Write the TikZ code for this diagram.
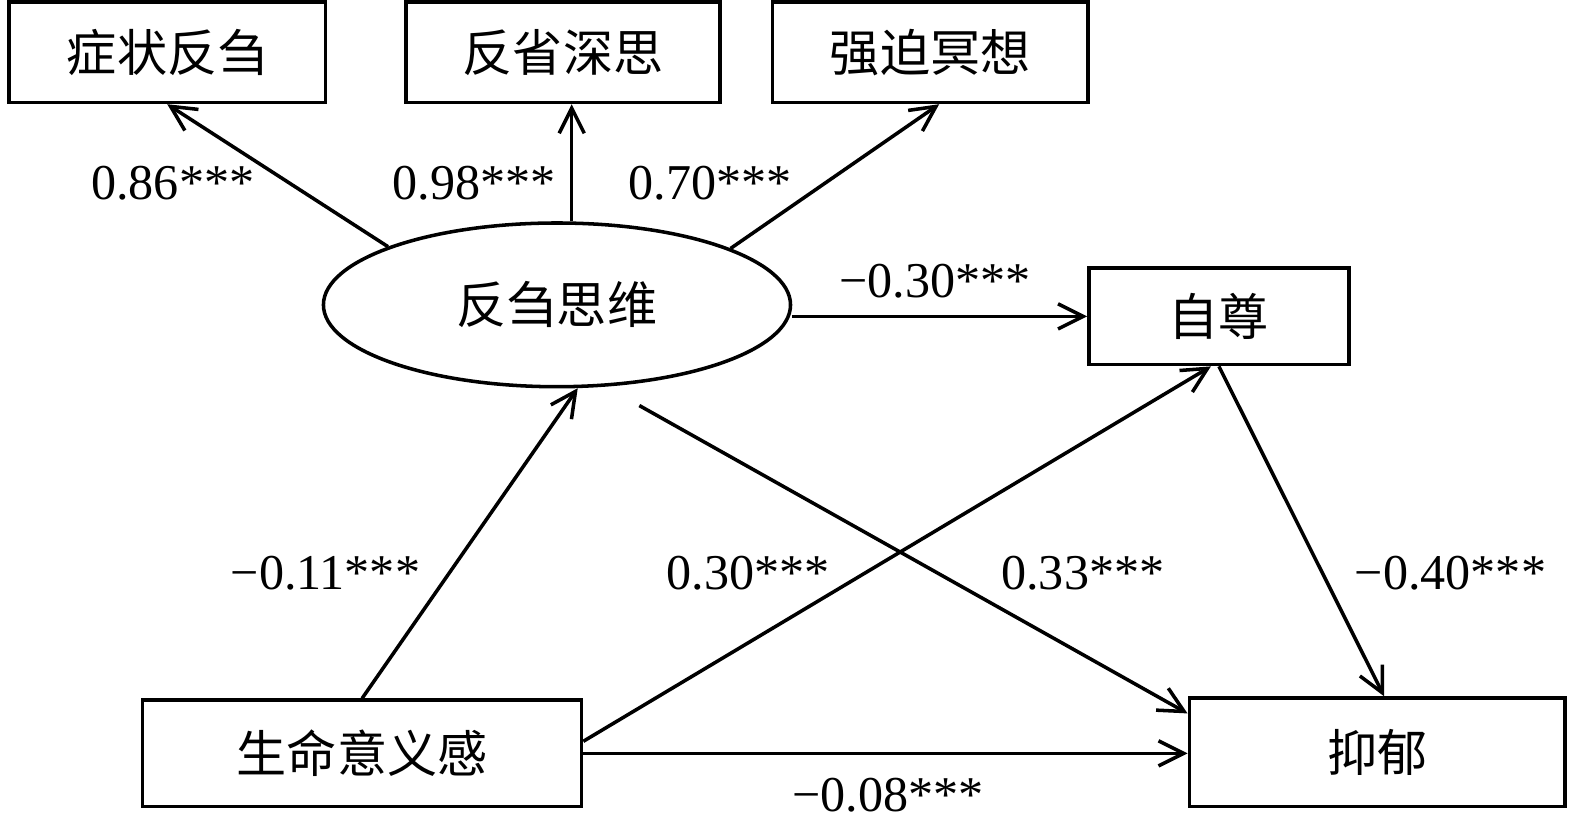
\documentclass[tikz,border=0pt]{standalone}
\usepackage{fontspec}
\setmainfont{Liberation Serif}
\newfontfamily\cjk{Noto Sans CJK SC}
\usetikzlibrary{arrows.meta,shapes.geometric}
\begin{document}
\begin{tikzpicture}
[line width=1pt,
 box/.style={draw,rectangle,inner sep=0pt,font=\cjk\fontsize{14.2}{17}\selectfont},
 latent/.style={draw,ellipse,inner sep=0pt,minimum width=4.65cm,minimum height=1.63cm,font=\cjk\fontsize{14.2}{17}\selectfont},
 arr/.style={-{Straight Barb[length=2.5mm,width=2.5mm]}},
 coef/.style={inner sep=0pt,font=\fontsize{14.2}{17}\selectfont}]
\useasboundingbox (0,0) rectangle (15.68,8.25);
\node[box, minimum width=3.15cm, minimum height=1.0cm] (zz) at (1.665,7.73) {症状反刍};
\node[box, minimum width=3.13cm, minimum height=1.0cm] (fx) at (5.605,7.73) {反省深思};
\node[box, minimum width=3.14cm, minimum height=1.0cm] (qp) at (9.26,7.73) {强迫冥想};
\node[latent] (rum) at (5.545,5.215) {反刍思维};
\node[box, minimum width=2.59cm, minimum height=0.96cm] (zizun) at (12.135,5.10) {自尊};
\node[box, minimum width=4.37cm, minimum height=1.06cm] (sm) at (3.605,0.75) {生命意义感};
\node[box, minimum width=3.74cm, minimum height=1.08cm] (yy) at (13.71,0.76) {抑郁};

\draw[arr] (rum.161) -- (zz.south);
\draw[arr] (rum.80) -- (rum.80 |- fx.south);
\draw[arr] (rum.18) -- ([xshift=0.09cm]qp.south);
\draw[arr] (rum.east |- zizun.west) -- (zizun.west);
\draw[arr] (sm.north) -- (rum.-76);
\draw[arr] ([yshift=0.12cm]sm.east) -- ([xshift=-0.08cm]zizun.south);
\draw[arr] (sm.east) -- (sm.east -| yy.west);
\draw[arr] ([xshift=0.82cm,yshift=-0.17cm]rum.south) -- ([yshift=-0.17cm]yy.north west);
\draw[arr] (zizun.south) -- ([xshift=0.07cm]yy.north);

\node[coef] (c1) at (1.72,6.43) {0.86***};
\node[coef] (c2) at (4.72,6.43) {0.98***};
\node[coef] (c3) at (7.07,6.43) {0.70***};
\node[coef] (c4) at (9.31,5.45) {−0.30***};
\node[coef] (c5) at (3.24,2.54) {−0.11***};
\node[coef] (c6) at (7.45,2.54) {0.30***};
\node[coef] (c7) at (10.78,2.54) {0.33***};
\node[coef] (c8) at (14.44,2.54) {−0.40***};
\node[coef] (c9) at (8.84,0.33) {−0.08***};
\end{tikzpicture}
\end{document}
